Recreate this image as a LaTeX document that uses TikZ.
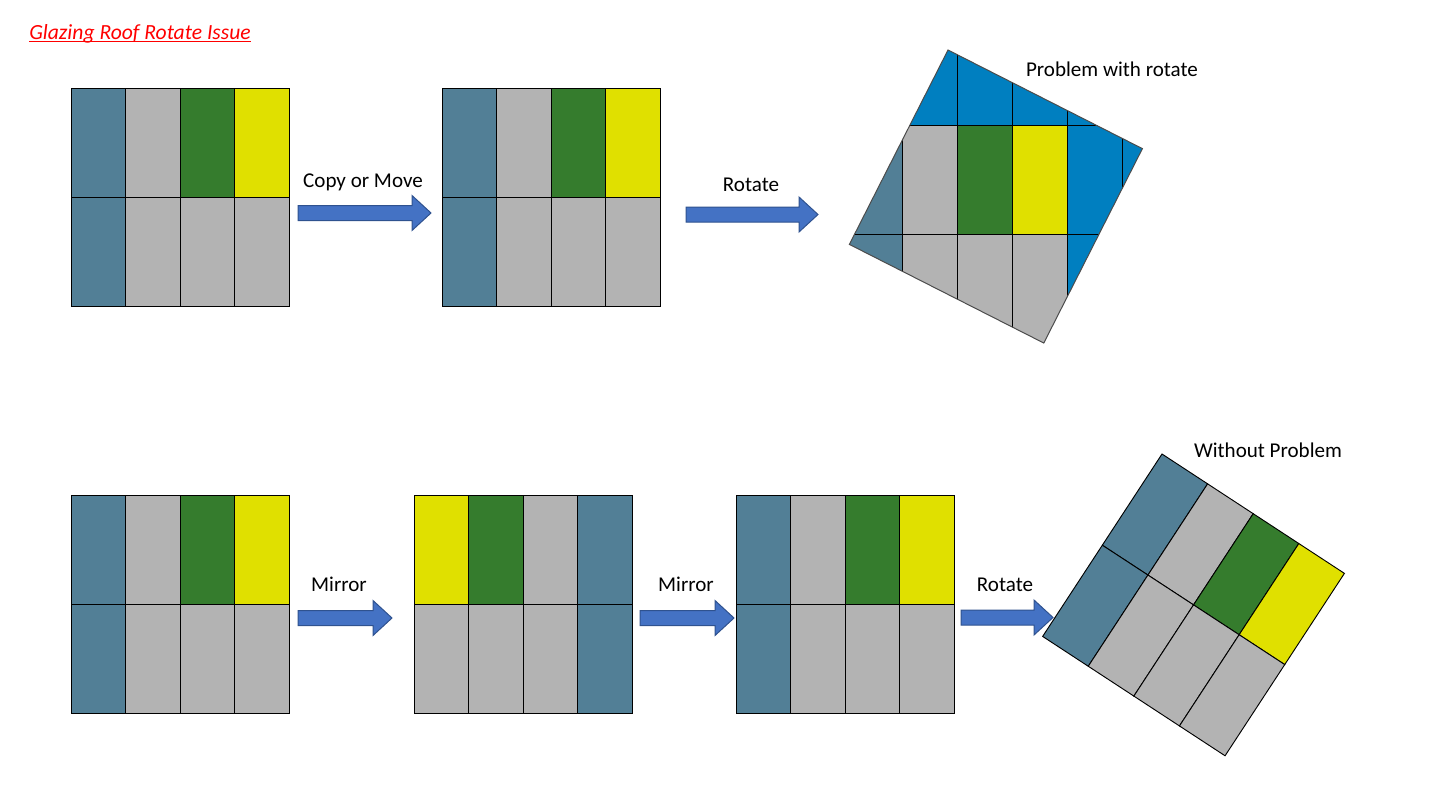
\documentclass[tikz,border=0pt]{standalone}
\usepackage{fontspec}
\setmainfont{Carlito}
\definecolor{steel}{RGB}{82,127,150}
\definecolor{lgray}{RGB}{179,179,179}
\definecolor{dgreen}{RGB}{53,124,45}
\definecolor{yel}{RGB}{224,224,0}
\definecolor{bblue}{RGB}{0,127,192}
\definecolor{arrfill}{RGB}{68,114,196}
\definecolor{arrdraw}{RGB}{47,82,143}
\newcommand{\panelgrid}[3]{%
  \foreach \c/\r/\f in {#3} {
    \draw[cell,fill=\f] ({#1+\c*54.5},{#2+\r*109}) rectangle +(54.5,109);
  }%
}
\newcommand{\blockarr}[3]{%
  \draw[blockarrow] (#1,#3-7.5) -- (#2-19,#3-7.5) -- (#2-19,#3-17.5) -- (#2,#3)
    -- (#2-19,#3+17.5) -- (#2-19,#3+7.5) -- (#1,#3+7.5) -- cycle;%
}
\begin{document}
\begin{tikzpicture}[x=0.75pt,y=-0.75pt,
  cell/.style={draw=black,line width=0.7pt},
  lbl/.style={font=\fontsize{15.8}{18}\selectfont, anchor=base, inner sep=0pt},
  blockarrow/.style={fill=arrfill,draw=arrdraw,line width=0.75pt}]
\useasboundingbox (0,0) rectangle (1434,803);

% title
\node[lbl, anchor=base west, text=red, font=\fontsize{16.2}{18}\selectfont\itshape] (title) at (29,39) {Glazing Roof Rotate Issue};
\draw[red, line width=0.8pt] ([yshift=-2.2pt]title.base west) -- ([yshift=-2.2pt]title.base east);

% top row panels
\panelgrid{71}{88}{0/0/steel,1/0/lgray,2/0/dgreen,3/0/yel,0/1/steel,1/1/lgray,2/1/lgray,3/1/lgray}
\panelgrid{442}{88}{0/0/steel,1/0/lgray,2/0/dgreen,3/0/yel,0/1/steel,1/1/lgray,2/1/lgray,3/1/lgray}

% rotated with problem
\begin{scope}
  \clip[shift={(948,50)},rotate=-26.9] (0,0) rectangle (218,218);
  \foreach \c/\r/\f in {0/0/bblue,1/0/bblue,2/0/bblue,3/0/bblue,4/0/bblue,5/0/bblue,
     0/1/steel,1/1/lgray,2/1/dgreen,3/1/yel,4/1/bblue,5/1/bblue,
     0/2/steel,1/2/lgray,2/2/lgray,3/2/lgray,4/2/bblue,5/2/bblue} {
    \draw[cell,fill=\f] ({848+\c*54.8},{16+\r*109}) rectangle +(54.8,109);
  }
\end{scope}
\draw[black!70,line width=0.75pt,shift={(948,50)},rotate=-26.9] (0,0) rectangle (218,218);

% bottom row panels
\panelgrid{71}{495.5}{0/0/steel,1/0/lgray,2/0/dgreen,3/0/yel,0/1/steel,1/1/lgray,2/1/lgray,3/1/lgray}
\panelgrid{414}{495.5}{0/0/yel,1/0/dgreen,2/0/lgray,3/0/steel,0/1/lgray,1/1/lgray,2/1/lgray,3/1/steel}
\panelgrid{736}{495.5}{0/0/steel,1/0/lgray,2/0/dgreen,3/0/yel,0/1/steel,1/1/lgray,2/1/lgray,3/1/lgray}

% rotated without problem
\begin{scope}[shift={(1162,454)},rotate=-33.2]
  \panelgrid{0}{0}{0/0/steel,1/0/lgray,2/0/dgreen,3/0/yel,0/1/steel,1/1/lgray,2/1/lgray,3/1/lgray}
\end{scope}

% arrows
\blockarr{298}{431}{213}
\blockarr{686}{818}{214.5}
\blockarr{298}{392}{618}
\blockarr{640}{734}{618}
\blockarr{961}{1053}{617.5}

% labels
\node[lbl] (l1) at (363,187) {Copy or Move};
\node[lbl] (l2) at (751,191) {Rotate};
\node[lbl] (l3) at (1112,76) {Problem with rotate};
\node[lbl] (l4) at (339,591) {Mirror};
\node[lbl] (l5) at (686,591) {Mirror};
\node[lbl] (l6) at (1005,591) {Rotate};
\node[lbl] (l7) at (1268,457) {Without Problem};
\end{tikzpicture}
\end{document}
